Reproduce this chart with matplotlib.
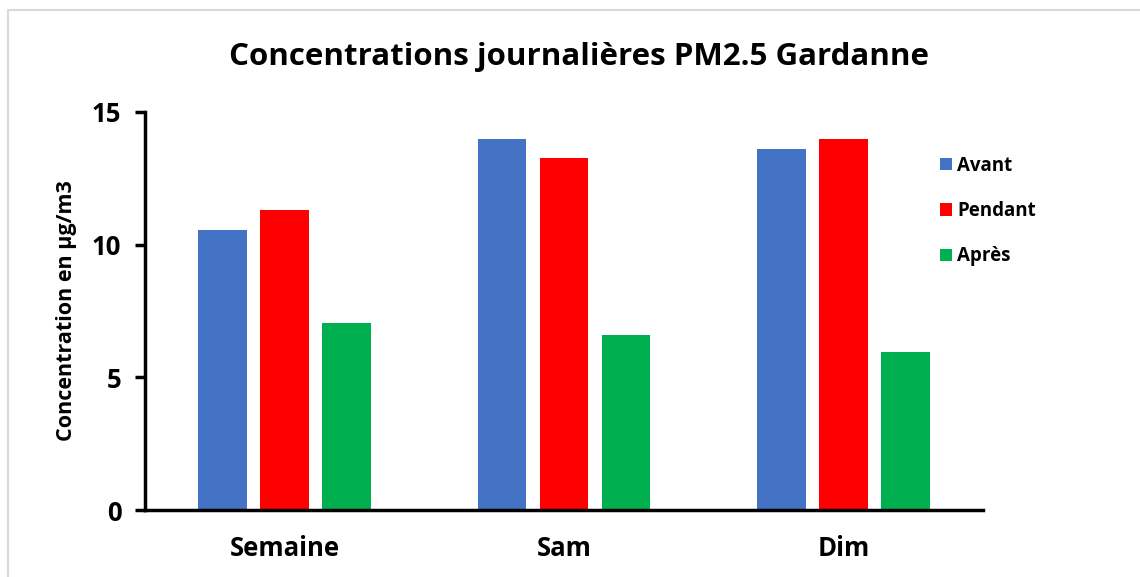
import numpy as np
import matplotlib.pyplot as plt
from matplotlib.patches import Rectangle

plt.rcParams['font.family'] = ['Open Sans', 'DejaVu Sans']

# Données
categories = ['Semaine', 'Sam', 'Dim']
periodes = ['Avant', 'Pendant', 'Après']
avant = [10.55, 14.0, 13.6]
pendant = [11.3, 13.25, 14.0]
apres = [7.05, 6.6, 5.95]
couleurs = ['#4472C4', '#FF0000', '#00B050']

fig = plt.figure(figsize=(11.4, 5.77), dpi=100)
ax = fig.add_axes([0.1272, 0.1161, 0.735, 0.6898])

# Cadre gris autour de la figure
fig.patches.append(Rectangle((0.007, -0.01), 1.0, 0.993, transform=fig.transFigure,
                             fill=False, edgecolor='#D9D9D9', linewidth=1.5))

x = np.arange(len(categories))
largeur = 0.175
pas = 0.222
for i, (serie, nom) in enumerate(zip([avant, pendant, apres], periodes)):
    ax.bar(x + (i - 1) * pas, serie, width=largeur, color=couleurs[i], label=nom)

ax.set_xlim(-0.5, 2.5)
ax.set_ylim(0, 15)
ax.set_yticks([0, 5, 10, 15])
ax.set_xticks(x)
ax.set_xticklabels(categories)

for s in ['top', 'right']:
    ax.spines[s].set_visible(False)
for s in ['left', 'bottom']:
    ax.spines[s].set_linewidth(2.5)

ax.tick_params(axis='y', direction='out', length=7, width=2.5, labelsize=18.5, pad=10)
ax.tick_params(axis='x', length=0, labelsize=18.5, pad=18)
for lab in ax.get_xticklabels() + ax.get_yticklabels():
    lab.set_fontweight('bold')

ax.set_ylabel('Concentration en µg/m3', fontsize=15.5, fontweight='bold', labelpad=11)
fig.text(0.508, 0.902, 'Concentrations journalières PM2.5 Gardanne',
         ha='center', va='center', fontsize=22.5, fontweight='bold')

leg = ax.legend(loc='upper left', bbox_to_anchor=(0.8246, 0.73),
                bbox_transform=fig.transFigure, frameon=False,
                borderpad=0, borderaxespad=0,
                prop={'weight': 'bold', 'size': 13.5}, handlelength=0.65,
                handleheight=0.65, handletextpad=0.25, labelspacing=1.35)

fig.savefig('out.png', dpi=100)
